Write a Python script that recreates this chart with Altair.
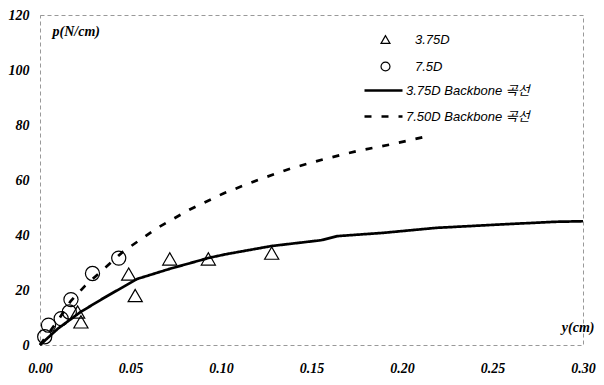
import altair as alt
import pandas as pd

# measured points
tri_x = [0.0226, 0.0208, 0.049, 0.0526, 0.0717, 0.093, 0.128]
tri_y = [8.4, 12.0, 25.8, 18.0, 31.3, 31.3, 33.4]
cir_x = [0.0026, 0.0047, 0.0117, 0.0162, 0.0171, 0.029, 0.0435]
cir_y = [3.0, 7.2, 9.6, 12.0, 16.5, 26.0, 31.6]

# backbone curves
c1_x = [0.0, 0.01, 0.0224, 0.035, 0.0536, 0.0717, 0.0934, 0.1026, 0.128, 0.1553, 0.1644, 0.19, 0.219, 0.2535, 0.2844, 0.30]
c1_y = [0.0, 6.0, 12.0, 17.0, 24.0, 27.7, 31.7, 33.0, 36.0, 38.1, 39.6, 40.8, 42.6, 43.8, 44.8, 45.0]
c2_x = [0.0, 0.01, 0.017, 0.025, 0.046, 0.0644, 0.0825, 0.1016, 0.1207, 0.139, 0.157, 0.175, 0.1935, 0.2126]
c2_y = [0.0, 9.0, 16.0, 21.6, 34.0, 42.4, 49.2, 55.2, 60.1, 64.3, 67.6, 70.5, 72.9, 75.7]

series_names = ["3.75D", "7.5D"]
curve_names = ["3.75D Backbone 곡선", "7.50D Backbone 곡선"]
x_ticks = [0.0, 0.05, 0.10, 0.15, 0.20, 0.25, 0.30]
y_ticks = [0, 20, 40, 60, 80, 100, 120]

pts = pd.DataFrame({
    "x": tri_x + cir_x,
    "y": tri_y + cir_y,
    "series": [series_names[0]] * len(tri_x) + [series_names[1]] * len(cir_x),
})
lines = pd.DataFrame({
    "x": c1_x + c2_x,
    "y": c1_y + c2_y,
    "curve": [curve_names[0]] * len(c1_x) + [curve_names[1]] * len(c2_x),
    "order": list(range(len(c1_x))) + list(range(len(c2_x))),
})

serif = "Times New Roman, Liberation Serif, serif"
sans = "Arial, Liberation Sans, Noto Sans CJK KR, sans-serif"

font_kw = dict(labelFont=serif, labelFontSize=14, labelFontWeight="bold", labelFontStyle="italic",
               labelColor="black", titleFont=serif, titleFontSize=14, titleFontWeight="bold",
               titleFontStyle="italic", titleColor="black")

xscale = alt.Scale(domain=[0, 0.30], nice=False, zero=True)
yscale = alt.Scale(domain=[0, 120], nice=False)

xaxis = alt.Axis(values=x_ticks, format=".2f", title="y(cm)", titleAngle=0,
                 titleX=554, titleY=-14, titleAlign="right", titleBaseline="alphabetic",
                 grid=False, ticks=False, domain=False, labelPadding=16, labelFlush=False,
                 **font_kw)
yaxis = alt.Axis(values=y_ticks, title="p(N/cm)", titleAngle=0,
                 titleX=12, titleY=20, titleAlign="left", titleBaseline="alphabetic",
                 grid=False, ticks=False, domain=False, labelPadding=11, labelFlush=False,
                 **font_kw)

line_layer = alt.Chart(lines).mark_line(color="black", strokeWidth=2.7).encode(
    x=alt.X("x:Q", scale=xscale, axis=xaxis),
    y=alt.Y("y:Q", scale=yscale, axis=yaxis),
    detail="curve:N",
    order="order:Q",
    strokeDash=alt.StrokeDash(
        "curve:N",
        scale=alt.Scale(domain=curve_names, range=[[1, 0], [7, 10]]),
        legend=alt.Legend(title=None, orient="none", legendX=323, legendY=69,
                          symbolType="stroke", symbolSize=1444, symbolStrokeWidth=2.5,
                          symbolStrokeColor="black", clipHeight=13, rowPadding=12,
                          labelOffset=2, padding=0, labelFont=sans, labelFontSize=13,
                          labelFontStyle="italic", labelColor="black", labelLimit=300),
    ),
)

pt_layer = alt.Chart(pts).mark_point(filled=False, color="black", size=200, strokeWidth=1.2, opacity=1).encode(
    x=alt.X("x:Q", scale=xscale),
    y=alt.Y("y:Q", scale=yscale),
    shape=alt.Shape(
        "series:N",
        scale=alt.Scale(domain=series_names, range=["triangle-up", "circle"]),
        legend=alt.Legend(title=None, orient="none", legendX=339, legendY=18,
                          symbolSize=80, symbolStrokeWidth=1.2, symbolStrokeColor="black",
                          symbolFillColor="transparent", rowPadding=12, labelOffset=23,
                          padding=0, labelFont=sans, labelFontSize=13,
                          labelFontStyle="italic", labelColor="black"),
    ),
)

chart = alt.layer(line_layer, pt_layer).properties(
    width=543, height=330,
    autosize=alt.AutoSizeParams(type="none"),
    padding={"left": 32, "top": 7, "right": 13, "bottom": 32},
).configure_view(
    stroke="#999999", strokeDash=[4, 3], strokeWidth=1
)

chart.save("out.html", embed_options={"renderer": "svg", "actions": False})
